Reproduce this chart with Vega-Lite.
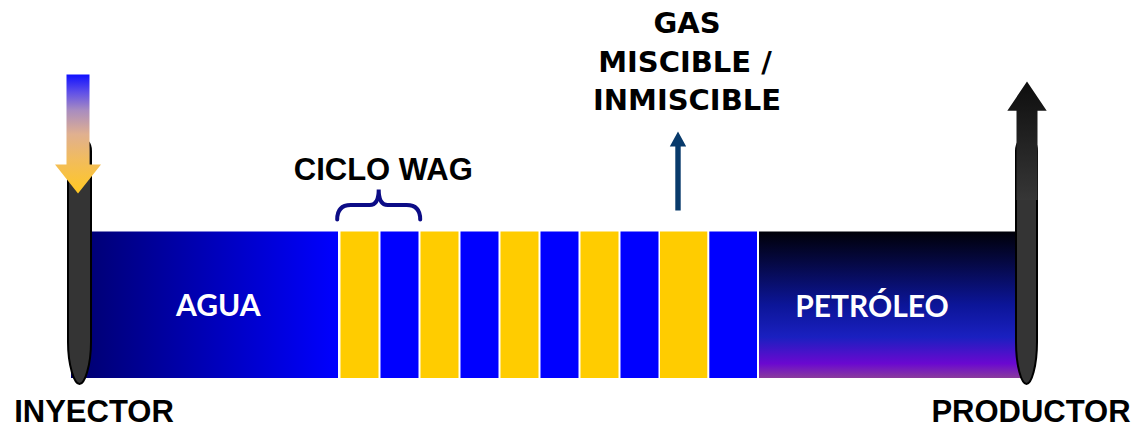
{
  "$schema": "https://vega.github.io/schema/vega-lite/v6.json",
  "width": 1140,
  "height": 428,
  "autosize": {"type": "fit", "contains": "padding"},
  "padding": 0,
  "background": "white",
  "config": {"view": {"stroke": null}},
  "encoding": {
    "x": {"field": "x", "type": "quantitative", "axis": null, "scale": {"domain": [0, 1140], "nice": false, "zero": false}},
    "y": {"field": "y", "type": "quantitative", "axis": null, "scale": {"domain": [0, 428], "nice": false, "zero": false, "reverse": true}}
  },
  "layer": [
    {
      "data": {"values": [{"zona": "Agua", "x": 71, "x2": 338, "y": 232, "y2": 379}]},
      "mark": {"type": "rect", "fill": {"gradient": "linear", "x1": 0, "y1": 0, "x2": 1, "y2": 0, "stops": [{"offset": 0, "color": "#00006c"}, {"offset": 1, "color": "#0000ff"}]}},
      "encoding": {"x2": {"field": "x2"}, "y2": {"field": "y2"}}
    },
    {
      "data": {"values": [
        {"fase": "Gas", "x": 340.5, "x2": 378.5, "y": 232, "y2": 379},
        {"fase": "Agua", "x": 380.5, "x2": 418.5, "y": 232, "y2": 379},
        {"fase": "Gas", "x": 420.5, "x2": 458.5, "y": 232, "y2": 379},
        {"fase": "Agua", "x": 460.5, "x2": 498.5, "y": 232, "y2": 379},
        {"fase": "Gas", "x": 500.5, "x2": 538.5, "y": 232, "y2": 379},
        {"fase": "Agua", "x": 540.5, "x2": 578.5, "y": 232, "y2": 379},
        {"fase": "Gas", "x": 580.5, "x2": 618.5, "y": 232, "y2": 379},
        {"fase": "Agua", "x": 620.5, "x2": 658.5, "y": 232, "y2": 379},
        {"fase": "Gas", "x": 660, "x2": 707.3, "y": 232, "y2": 379},
        {"fase": "Agua", "x": 709.3, "x2": 757, "y": 232, "y2": 379}
      ]},
      "mark": {"type": "rect"},
      "encoding": {
        "x2": {"field": "x2"},
        "y2": {"field": "y2"},
        "color": {"field": "fase", "type": "nominal", "legend": null, "scale": {"domain": ["Agua", "Gas"], "range": ["#0000ff", "#ffcc00"]}}
      }
    },
    {
      "data": {"values": [{"zona": "Petróleo", "x": 759, "x2": 1026, "y": 232, "y2": 379}]},
      "mark": {"type": "rect", "fill": {"gradient": "linear", "x1": 0, "y1": 0, "x2": 0, "y2": 1, "stops": [
        {"offset": 0, "color": "#000008"},
        {"offset": 0.2, "color": "#050840"},
        {"offset": 0.5, "color": "#0c1598"},
        {"offset": 0.72, "color": "#1a20c0"},
        {"offset": 0.9, "color": "#6a08d0"},
        {"offset": 1, "color": "#8a3c9c"}
      ]}},
      "encoding": {"x2": {"field": "x2"}, "y2": {"field": "y2"}}
    },
    {
      "data": {"values": [{"pozo": "Inyector", "x": 79.5, "y": 385}]},
      "mark": {"type": "point", "filled": true, "opacity": 1, "size": 4, "fill": "#343434", "stroke": "#000000", "strokeWidth": 2,
        "shape": "M-11.5,-233 Q-11.5,-245 0,-245 Q11.5,-245 11.5,-233 L11.5,-42 C11.5,-18 5,0 0,0 C-5,0 -11.5,-18 -11.5,-42 Z"}
    },
    {
      "data": {"values": [{"pozo": "Productor", "x": 1026.5, "y": 385}]},
      "mark": {"type": "point", "filled": true, "opacity": 1, "size": 4, "fill": "#343434", "stroke": "#000000", "strokeWidth": 2,
        "shape": "M-10.5,-233 Q-10.5,-245 0,-245 Q10.5,-245 10.5,-233 L10.5,-42 C10.5,-18 5,0 0,0 C-5,0 -10.5,-18 -10.5,-42 Z"}
    },
    {
      "data": {"values": [{"flujo": "Inyección", "x": 78, "y": 194}]},
      "mark": {"type": "point", "filled": true, "opacity": 1, "size": 4, "strokeWidth": 0,
        "fill": {"gradient": "linear", "x1": 0, "y1": 0, "x2": 0, "y2": 1, "stops": [
          {"offset": 0, "color": "#1010ff"},
          {"offset": 0.15, "color": "#6050e8"},
          {"offset": 0.3, "color": "#a88cc0"},
          {"offset": 0.5, "color": "#e0b090"},
          {"offset": 0.72, "color": "#f2bc5c"},
          {"offset": 1, "color": "#ffc822"}
        ]},
        "shape": "M-11.5,-119 L11.5,-119 L11.5,-29 L23,-29 L0,0 L-23,-29 L-11.5,-29 Z"}
    },
    {
      "data": {"values": [{"flujo": "Producción", "x": 1027, "y": 81.7}]},
      "mark": {"type": "point", "filled": true, "opacity": 1, "size": 4, "strokeWidth": 0,
        "fill": {"gradient": "linear", "x1": 0, "y1": 0, "x2": 0, "y2": 1, "stops": [
          {"offset": 0, "color": "#0e0e0e"},
          {"offset": 0.3, "color": "#1a1a1a"},
          {"offset": 1, "color": "#363636"}
        ]},
        "shape": "M0,0 L19.7,29.3 L10.5,29.3 L10.5,118.5 L-10.5,118.5 L-10.5,29.3 L-19.7,29.3 Z"}
    },
    {
      "data": {"values": [{"flujo": "Gas", "x": 678, "y": 131.7}]},
      "mark": {"type": "point", "filled": true, "opacity": 1, "size": 4, "strokeWidth": 0, "fill": "#083a6b",
        "shape": "M0,0 L8.2,15 L2.7,15 L2.7,79 L-2.7,79 L-2.7,15 L-8.2,15 Z"}
    },
    {
      "data": {"values": [{"ciclo": "WAG", "x": 378.7, "y": 189}]},
      "mark": {"type": "point", "filled": false, "opacity": 1, "size": 4, "fill": null, "stroke": "#0c0c86", "strokeWidth": 4, "strokeCap": "round",
        "shape": "M-41.5,31 Q-41.5,16.5 -28,16.5 L-9,16.5 Q0,16.5 0,1 Q0,16.5 9,16.5 L28,16.5 Q41.5,16.5 41.5,31"}
    },
    {
      "data": {"values": [
        {"texto": "INYECTOR", "x": 94, "y": 423},
        {"texto": "PRODUCTOR", "x": 1031, "y": 423},
        {"texto": "CICLO WAG", "x": 383.3, "y": 180}
      ]},
      "mark": {"type": "text", "align": "center", "baseline": "alphabetic", "font": "Liberation Sans", "fontWeight": "bold", "fontSize": 31, "fill": "#000000"},
      "encoding": {"text": {"field": "texto"}}
    },
    {
      "data": {"values": [
        {"texto": "GAS", "x": 687, "y": 33.3},
        {"texto": "MISCIBLE /", "x": 685, "y": 71.7},
        {"texto": "INMISCIBLE", "x": 687, "y": 110.5}
      ]},
      "mark": {"type": "text", "align": "center", "baseline": "alphabetic", "font": "DejaVu Sans", "fontWeight": "bold", "fontSize": 29, "fill": "#000000"},
      "encoding": {"text": {"field": "texto"}}
    },
    {
      "data": {"values": [
        {"texto": "AGUA", "x": 218.3, "y": 316.7},
        {"texto": "PETRÓLEO", "x": 872, "y": 317.3}
      ]},
      "mark": {"type": "text", "align": "center", "baseline": "alphabetic", "font": "Lato", "fontWeight": "bold", "fontSize": 30, "fill": "#ffffff"},
      "encoding": {"text": {"field": "texto"}}
    }
  ]
}
